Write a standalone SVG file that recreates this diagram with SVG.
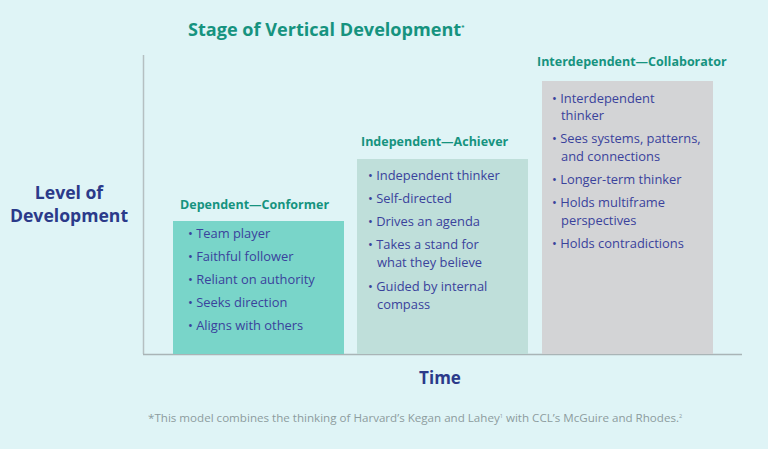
<svg xmlns="http://www.w3.org/2000/svg" width="768" height="449" viewBox="0 0 768 449">
<style>
.bg{fill:#dff4f6}
.ttl{font-family:"Open Sans","Noto Sans",sans-serif;font-weight:bold;fill:#16937f}
.ax{font-family:"Open Sans","Noto Sans",sans-serif;font-weight:bold;fill:#2b3a8a}
.b{font-family:"Open Sans","Noto Sans",sans-serif;font-size:12.9px;font-weight:500;fill:#3a429c}
.hd{font-family:"Open Sans","Noto Sans",sans-serif;font-weight:bold;font-size:12.5px;fill:#16937f}
.fn{font-family:"Open Sans","Noto Sans",sans-serif;font-size:11.6px;fill:#8d9c9e}
</style>
<rect class="bg" x="0" y="0" width="768" height="449"/>
<text class="ttl" x="188" y="36" font-size="18.1">Stage of Vertical Development<tspan font-size="6" dy="-7">*</tspan></text>
<g id="yaxis-label"><text class="ax" x="69" y="199" font-size="17.6" text-anchor="middle">Level of</text><text class="ax" x="69" y="222" font-size="17.6" text-anchor="middle">Development</text></g>
<g id="axes"><line x1="143.5" y1="55" x2="143.5" y2="354" stroke="#b5bfc1" stroke-width="1.5"/><line x1="143" y1="354.5" x2="742" y2="354.5" stroke="#a9b4b6" stroke-width="1.5"/></g>
<g id="dependent">
<text class="hd" x="180" y="209">Dependent—Conformer</text>
<rect x="173" y="221" width="171" height="133" fill="#79d5c9"/>
<text class="b"><tspan x="188" y="238">• Team player</tspan><tspan x="188" y="261">• Faithful follower</tspan><tspan x="188" y="284">• Reliant on authority</tspan><tspan x="188" y="307">• Seeks direction</tspan><tspan x="188" y="330">• Aligns with others</tspan></text>
</g>
<g id="independent">
<text class="hd" x="361" y="146">Independent—Achiever</text>
<rect x="357" y="159" width="171" height="195" fill="#bfdfda"/>
<text class="b"><tspan x="368" y="180">• Independent thinker</tspan><tspan x="368" y="203">• Self-directed</tspan><tspan x="368" y="226">• Drives an agenda</tspan><tspan x="368" y="249">• Takes a stand for</tspan><tspan x="377" y="267">what they believe</tspan><tspan x="368" y="291">• Guided by internal</tspan><tspan x="377" y="309">compass</tspan></text>
</g>
<g id="interdependent">
<text class="hd" x="537" y="66">Interdependent—Collaborator</text>
<rect x="542" y="81" width="171" height="273" fill="#d3d4d6"/>
<text class="b"><tspan x="552" y="103">• Interdependent</tspan><tspan x="561" y="120">thinker</tspan><tspan x="552" y="143">• Sees systems, patterns,</tspan><tspan x="561" y="161">and connections</tspan><tspan x="552" y="184">• Longer-term thinker</tspan><tspan x="552" y="207">• Holds multiframe</tspan><tspan x="561" y="225">perspectives</tspan><tspan x="552" y="248">• Holds contradictions</tspan></text>
</g>
<text class="ax" x="440" y="384" font-size="17" text-anchor="middle">Time</text>
<text class="fn" x="148" y="422">*This model combines the thinking of Harvard’s Kegan and Lahey<tspan font-size="5.5" dy="-4">1</tspan><tspan dy="4"> with CCL’s McGuire and Rhodes.</tspan><tspan font-size="5.5" dy="-4">2</tspan></text>
</svg>
